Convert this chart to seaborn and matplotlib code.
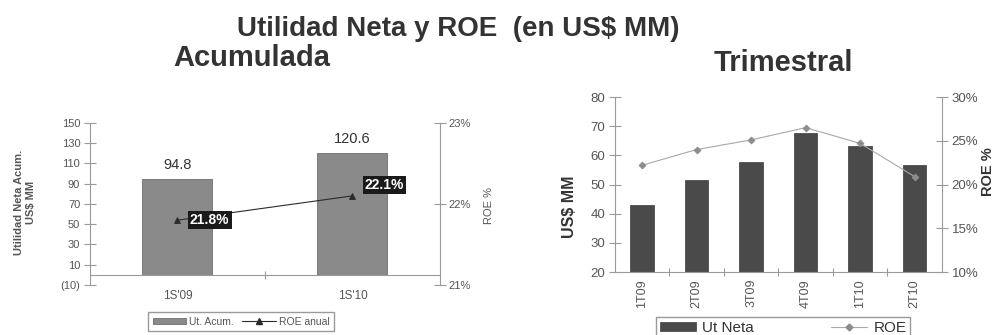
import numpy as np
import pandas as pd
import matplotlib
matplotlib.use("Agg")
import matplotlib.pyplot as plt
import seaborn as sns
from matplotlib.patches import Patch
from matplotlib.lines import Line2D
from matplotlib.ticker import FixedLocator, FuncFormatter

# Accumulated (semester) figures
periodos_acum = ["1S'09", "1S'10"]
utilidad_acum = [94.8, 120.6]
roe_anual = [21.8, 22.1]

# Quarterly figures
trimestres = ["1T09", "2T09", "3T09", "4T09", "1T10", "2T10"]
utilidad_trim = [43.0, 51.5, 57.7, 67.8, 63.2, 56.6]
roe_trim = [22.2, 24.0, 25.1, 26.5, 24.7, 20.9]

sns.set_theme(style="white")
plt.rcParams["font.family"] = ["Liberation Sans", "DejaVu Sans"]

GRID = "#9a9a9a"
TXT = "#555555"
DARK = "#333333"

fig = plt.figure(figsize=(10.04, 3.35), dpi=100)
fig.patch.set_facecolor("white")

# ---------------- Left panel: accumulated ----------------
ax1 = fig.add_axes([0.0896, 0.1493, 0.3486, 0.4836])
ax1b = ax1.twinx()

df_acum = pd.DataFrame({"periodo": periodos_acum, "utilidad": utilidad_acum, "roe": roe_anual})
sns.barplot(data=df_acum, x="periodo", y="utilidad", ax=ax1, color="#8a8a8a",
            saturation=1, width=0.4, edgecolor="#6f6f6f", linewidth=0.6)
sns.pointplot(data=df_acum, x="periodo", y="roe", ax=ax1b, color="#2b2b2b",
              marker="^", markersize=4, linewidth=0.8)

ax1.set_ylim(-10, 150)
ax1.set_yticks(np.arange(-10, 151, 20))
ax1.yaxis.set_major_formatter(FuncFormatter(lambda v, p: f"({abs(v):.0f})" if v < 0 else f"{v:.0f}"))
ax1b.set_ylim(21, 23)
ax1b.set_yticks([21, 22, 23])
ax1b.yaxis.set_major_formatter(FuncFormatter(lambda v, p: f"{v:.0f}%"))
ax1.set_xlim(-0.5, 1.5)

for s in ["top", "right"]:
    ax1.spines[s].set_visible(False)
for s in ["top", "bottom", "left"]:
    ax1b.spines[s].set_visible(False)
ax1.spines["bottom"].set_position(("data", 0))
for sp in [ax1.spines["left"], ax1.spines["bottom"], ax1b.spines["right"]]:
    sp.set_color(GRID)
    sp.set_linewidth(0.8)

ax1.xaxis.set_minor_locator(FixedLocator([0.5]))
ax1.tick_params(axis="x", which="major", length=0, pad=11, labelsize=8.5, labelcolor=TXT)
ax1.tick_params(axis="x", which="minor", bottom=True, direction="inout", length=6, color=GRID, width=0.8)
ax1.tick_params(axis="y", left=True, direction="inout", length=8, color=GRID, width=0.8,
                labelsize=8, labelcolor=TXT, pad=3)
ax1b.tick_params(axis="y", right=True, direction="inout", length=8, color=GRID, width=0.8,
                 labelsize=8, labelcolor=TXT, pad=2)
ax1.set_xlabel("")
ax1.set_ylabel("Utilidad Neta Acum.\nUS$ MM", fontsize=8, fontweight="bold", color=TXT)
ax1.yaxis.set_label_coords(-0.154, 0.51)
ax1b.set_ylabel("ROE %", fontsize=8, color=TXT)
ax1b.yaxis.set_label_coords(1.125, 0.49)

ax1.bar_label(ax1.containers[0], fmt="%.1f", padding=5, fontsize=10.5, color=DARK)
offsets = [(9, 0), (9, 8)]
for i, (v, off) in enumerate(zip(roe_anual, offsets)):
    ax1b.annotate(f"{v:.1f}%", xy=(i, v), xytext=off, textcoords="offset points",
                  ha="left", va="center", fontsize=10, fontweight="bold", color="white",
                  bbox=dict(boxstyle="square,pad=0.15", facecolor="#1a1a1a", edgecolor="none"))

# ---------------- Right panel: quarterly ----------------
ax2 = fig.add_axes([0.6125, 0.188, 0.3257, 0.5224])
ax2b = ax2.twinx()

df_trim = pd.DataFrame({"trimestre": trimestres, "utilidad": utilidad_trim, "roe": roe_trim})
sns.barplot(data=df_trim, x="trimestre", y="utilidad", ax=ax2, color="#4a4a4a",
            saturation=1, width=0.43, edgecolor="#3a3a3a", linewidth=0.5)
sns.pointplot(data=df_trim, x="trimestre", y="roe", ax=ax2b, color="#a8a8a8",
              marker="D", markersize=3.5, linewidth=0.8)
for ln in ax2b.lines:
    ln.set_markerfacecolor("#8c8c8c")
    ln.set_markeredgecolor("#8c8c8c")

ax2.set_ylim(20, 80)
ax2.set_yticks(np.arange(20, 81, 10))
ax2b.set_ylim(10, 30)
ax2b.set_yticks(np.arange(10, 31, 5))
ax2b.yaxis.set_major_formatter(FuncFormatter(lambda v, p: f"{v:.0f}%"))
ax2.set_xlim(-0.5, len(trimestres) - 0.5)

ax2.spines["top"].set_visible(False)
ax2.spines["right"].set_visible(False)
for s in ["top", "bottom", "left"]:
    ax2b.spines[s].set_visible(False)
for sp in [ax2.spines["left"], ax2.spines["bottom"], ax2b.spines["right"]]:
    sp.set_color(GRID)
    sp.set_linewidth(0.8)

ax2.xaxis.set_minor_locator(FixedLocator(np.arange(0.5, len(trimestres) - 1, 1.0)))
ax2.tick_params(axis="x", which="major", length=0, pad=5, labelsize=9, labelcolor=TXT, rotation=90)
ax2.tick_params(axis="x", which="minor", bottom=True, direction="inout", length=6, color=GRID, width=0.8)
ax2.tick_params(axis="y", left=True, direction="inout", length=8, color=GRID, width=0.8,
                labelsize=9.5, labelcolor=TXT, pad=3)
ax2b.tick_params(axis="y", right=True, direction="inout", length=8, color=GRID, width=0.8,
                 labelsize=9.5, labelcolor=TXT, pad=3)
ax2.set_xlabel("")
ax2.set_ylabel("US$ MM", fontsize=11.5, fontweight="bold", color=DARK)
ax2.yaxis.set_label_coords(-0.117, 0.372)
ax2b.set_ylabel("ROE %", fontsize=10.5, fontweight="bold", color=DARK)
ax2b.yaxis.set_label_coords(1.118, 0.571)

# ---------------- Titles ----------------
fig.text(0.456, 0.913, "Utilidad Neta y ROE  (en US$ MM)", ha="center", va="center",
         fontsize=20, fontweight="bold", color=DARK)
fig.text(0.251, 0.826, "Acumulada", ha="center", va="center",
         fontsize=21, fontweight="bold", color=DARK)
fig.text(0.780, 0.812, "Trimestral", ha="center", va="center",
         fontsize=21, fontweight="bold", color=DARK)

# ---------------- Legends ----------------
h_left = [Patch(facecolor="#8a8a8a", edgecolor="#6f6f6f", linewidth=0.6),
          Line2D([], [], color="#2b2b2b", marker="^", markersize=4, linewidth=0.8)]
fig.legend(h_left, ["Ut. Acum.", "ROE anual"], ncol=2, loc="upper center",
           bbox_to_anchor=(241 / 1004, 1 - 312 / 335), borderaxespad=0, fontsize=7.5,
           frameon=True, fancybox=False, edgecolor=GRID, framealpha=1, handlelength=3.2,
           handleheight=0.5, columnspacing=0.8, handletextpad=0.3, borderpad=0.45, labelcolor=TXT)

h_right = [Patch(facecolor="#4a4a4a", edgecolor="#3a3a3a", linewidth=0.5),
           Line2D([], [], color="#a8a8a8", marker="D", markersize=3.5, linewidth=0.8,
                  markerfacecolor="#8c8c8c", markeredgecolor="#8c8c8c")]
fig.legend(h_right, ["Ut Neta", "ROE"], ncol=2, loc="upper center",
           bbox_to_anchor=(783 / 1004, 1 - 317 / 335), borderaxespad=0, fontsize=11,
           frameon=True, fancybox=False, edgecolor=GRID, framealpha=1, handlelength=2.4,
           handleheight=0.5, columnspacing=5.0, handletextpad=0.4, borderpad=0.25, labelcolor=DARK)

fig.savefig("out.png", dpi=100, facecolor="white")
